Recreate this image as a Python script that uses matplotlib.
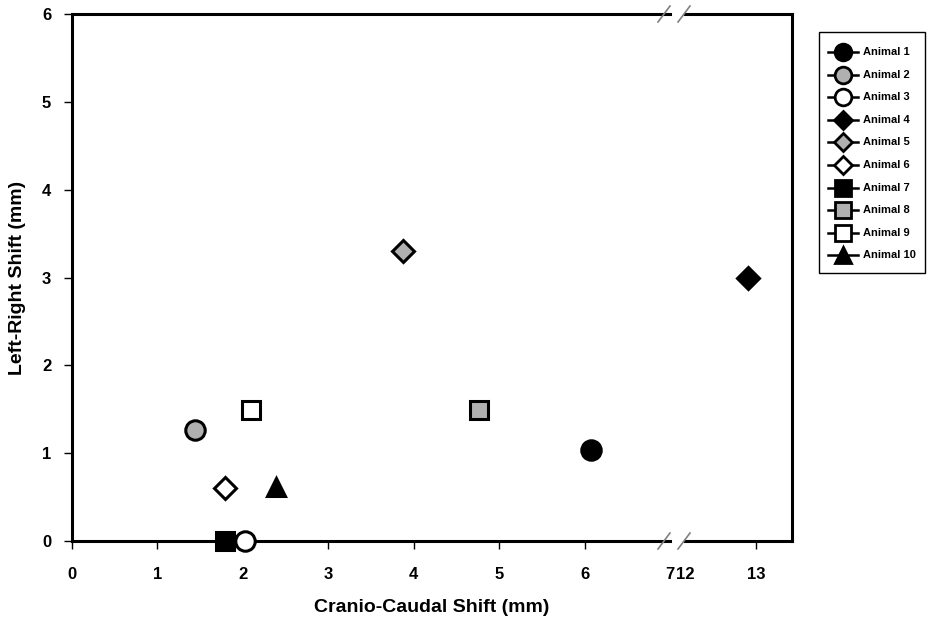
import matplotlib.pyplot as plt
from matplotlib.lines import Line2D
from matplotlib.patches import Rectangle

plt.rcParams['font.family'] = ['Liberation Sans', 'DejaVu Sans']
plt.rcParams['font.weight'] = 'bold'

# values
animals = ["Animal 1", "Animal 2", "Animal 3", "Animal 4", "Animal 5",
           "Animal 6", "Animal 7", "Animal 8", "Animal 9", "Animal 10"]
cc_shift = [6.07, 1.44, 2.02, 12.89, 3.88, 1.79, 1.79, 4.77, 2.09, 2.39]
lr_shift = [1.04, 1.26, 0.0, 3.0, 3.3, 0.6, 0.0, 1.49, 1.49, 0.62]
markers = ["o", "o", "o", "D", "D", "D", "s", "s", "s", "^"]
fills = ["black", "#b0b0b0", "white", "black", "#b0b0b0", "white",
         "black", "#b0b0b0", "white", "black"]
sizes = [14, 14, 14, 11, 11, 11, 13, 13, 13, 13]

left_ticks = [0, 1, 2, 3, 4, 5, 6, 7]
right_ticks = [12, 13]
y_ticks = [0, 1, 2, 3, 4, 5, 6]

W, H = 927, 624
fig = plt.figure(figsize=(W / 100, H / 100), dpi=100)

y0, y1 = 541, 14
axL = fig.add_axes([72 / W, (H - y0) / H, (670 - 72) / W, (y0 - y1) / H])
axR = fig.add_axes([685 / W, (H - y0) / H, (792 - 685) / W, (y0 - y1) / H])

axL.set_xlim(0, 7)
axR.set_xlim(12, 13.5)
for ax in (axL, axR):
    ax.set_ylim(0, 6)
    for s in ax.spines.values():
        s.set_linewidth(2.2)
    ax.tick_params(direction="out", length=6, width=1, labelsize=12, pad=13)

axL.spines["right"].set_visible(False)
axR.spines["left"].set_visible(False)
axL.set_xticks(left_ticks)
axR.set_xticks(right_ticks)
axL.set_yticks(y_ticks)
axR.set_yticks([])
axL.tick_params(axis="y", pad=9)
axL.xaxis.get_major_ticks()[-1].tick1line.set_visible(False)
axR.xaxis.get_major_ticks()[0].tick1line.set_visible(False)

for i in range(len(animals)):
    ax = axR if cc_shift[i] > 10 else axL
    ax.plot(cc_shift[i], lr_shift[i], linestyle="none", marker=markers[i],
            markersize=sizes[i], markerfacecolor=fills[i],
            markeredgecolor="black", markeredgewidth=2.2, clip_on=False,
            zorder=5)

# break marks
for xb in (664, 684):
    for yb in (y1, y0):
        fig.add_artist(Line2D([(xb - 6) / W, (xb + 6) / W],
                              [(H - yb - 8) / H, (H - yb + 8) / H],
                              color="#808080", lw=1.2))

fig.text(0.5 * (72 + 792) / W, (H - 608) / H, "Cranio-Caudal Shift (mm)",
         ha="center", va="center", fontsize=14, fontweight="bold")
fig.text(18 / W, (H - 278) / H, "Left-Right Shift (mm)", rotation=90,
         ha="center", va="center", fontsize=14, fontweight="bold")

# legend drawn by hand in pixel coordinates (SigmaPlot style box)
lg = fig.add_axes([0, 0, 1, 1], zorder=10)
lg.set_xlim(0, W)
lg.set_ylim(H, 0)
lg.axis("off")
lg.add_patch(Rectangle((819, 32), 106, 241, fill=False, edgecolor="black", lw=1))
for i, name in enumerate(animals):
    yy = 52 + i * 22.6
    lg.plot([828, 858], [yy, yy], color="black", lw=1.8)
    lg.plot(843, yy, marker=markers[i], markersize=sizes[i] - 2,
            markerfacecolor=fills[i], markeredgecolor="black",
            markeredgewidth=2)
    lg.text(863, yy, name, ha="left", va="center", fontsize=8, fontweight="bold")

fig.savefig("out.png", dpi=100)
